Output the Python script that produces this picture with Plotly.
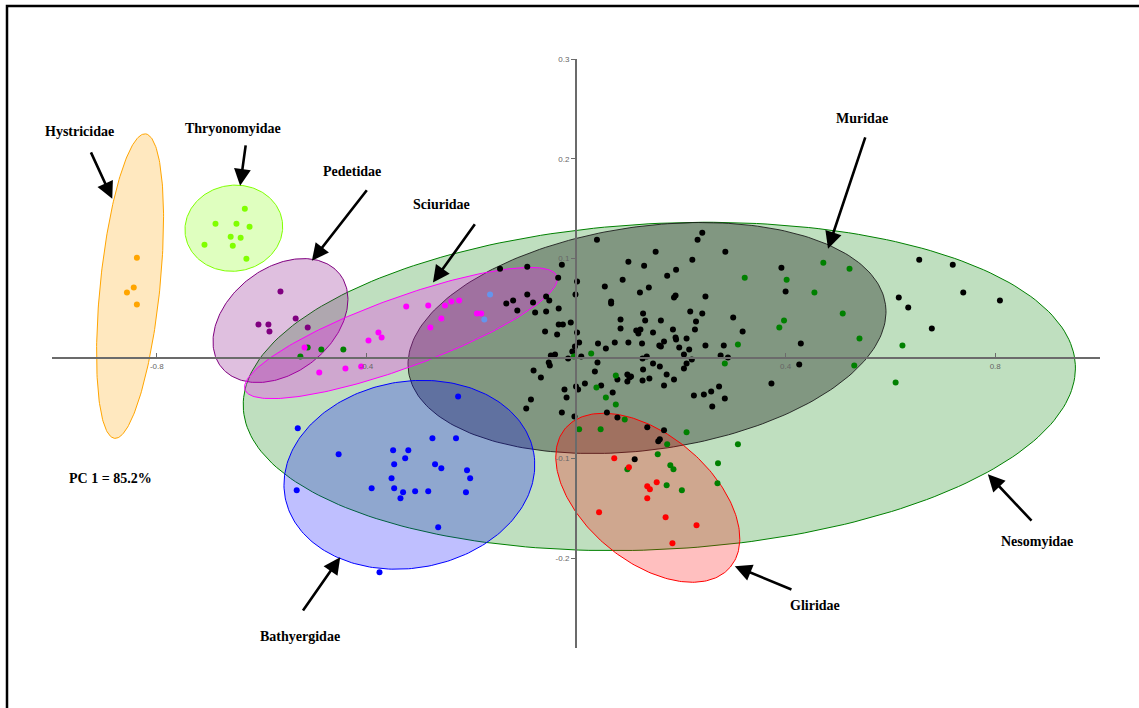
import numpy as np
import plotly.graph_objects as go

# ---------------- data (PC1, PC2 scores) ----------------
muridae_x = [-0.145,-0.093,-0.027,0.040,-0.034,0.002,-0.001,0.055,0.089,0.100,0.130,0.152,0.122,0.139,0.174,0.191,
             0.222,0.232,0.241,0.285,0.392,0.400,0.247,0.187,0.190,0.067,0.067,-0.093,-0.057,-0.051,-0.133,-0.120,
             -0.082,-0.112,-0.078,-0.057,-0.033,0.128,0.218,0.241,0.132,0.162,0.085,0.229,0.300,0.318,-0.059,-0.036,
             -0.033,-0.025,-0.010,0.002,0.085,0.115,0.123,0.119,0.147,0.185,0.227,0.190,0.211,0.191,0.006,-0.002,
             -0.007,0.042,0.057,0.074,0.100,0.126,0.159,0.162,0.168,0.197,0.216,0.247,0.282,0.206,0.276,0.290,
             0.221,-0.015,0.010,-0.040,-0.048,-0.052,-0.050,0.127,0.135,0.147,0.160,0.041,0.036,-0.081,-0.067,0.079,
             0.098,0.102,0.105,0.098,0.127,0.128,0.140,0.173,0.187,0.168,0.206,0.211,0.017,0.000,0.004,-0.022,
             -0.018,0.048,0.070,-0.086,-0.095,-0.027,-0.003,0.059,0.079,0.225,0.244,0.258,0.273,0.284,0.260,0.373,
             0.136,0.168,0.157,0.160,0.112,0.429,0.426,0.655,0.719,0.739,0.809,0.616,0.634,0.679]
muridae_y = [0.090,0.092,0.094,0.119,0.081,0.077,0.064,0.072,0.079,0.097,0.093,0.107,0.066,0.071,0.083,0.089,
             0.099,0.119,0.126,0.107,0.091,0.067,0.062,0.061,0.063,0.057,0.055,0.064,0.062,0.058,0.055,0.058,
             0.056,0.048,0.046,0.047,0.050,0.045,0.047,0.045,0.038,0.038,0.039,0.037,0.041,0.027,0.027,0.024,
             0.034,0.034,0.036,0.026,0.030,0.028,0.029,0.025,0.026,0.029,0.029,0.021,0.020,0.019,0.016,0.012,
             0.007,0.015,0.010,0.016,0.016,0.015,0.013,0.012,0.017,0.011,0.009,0.013,0.013,0.004,0.003,0.001,
             -0.001,0.000,0.002,0.004,0.003,-0.004,-0.007,0.000,0.002,-0.005,-0.008,-0.004,-0.013,-0.012,-0.019,-0.021,
             -0.016,-0.019,-0.018,-0.023,-0.022,-0.011,-0.020,-0.016,-0.021,-0.027,-0.010,-0.005,-0.025,-0.028,-0.031,-0.031,
             -0.039,-0.027,-0.034,-0.041,-0.050,-0.054,-0.058,-0.054,-0.059,-0.037,-0.036,-0.033,-0.028,-0.040,-0.048,-0.025,
             -0.069,-0.072,-0.083,-0.081,-0.101,0.015,-0.006,0.099,0.094,0.066,0.058,0.061,0.051,0.030]

nesomyidae_x = [0.322,0.402,0.397,0.388,0.309,0.284,0.029,-0.004,0.076,0.039,0.057,0.076,0.093,
                0.006,0.047,0.211,0.309,0.174,0.156,0.180,0.186,0.098,0.271,0.270,0.173,0.202,
                0.472,0.455,0.522,0.509,0.541,0.623,0.531,0.610,
                -0.526,-0.512,-0.486,-0.444]
nesomyidae_y = [0.081,0.079,0.038,0.031,0.014,-0.005,0.005,0.002,-0.017,-0.029,-0.039,-0.046,-0.061,
                -0.071,-0.071,-0.074,-0.086,-0.086,-0.096,-0.107,-0.111,-0.111,-0.105,-0.125,-0.127,-0.132,
                0.096,0.066,0.090,0.045,0.020,0.013,-0.007,-0.024,
                0.002,0.011,0.009,0.009]

gliridae_x = [0.073,0.101,0.154,0.136,0.141,0.136,0.044,0.171,0.230,0.184]
gliridae_y = [-0.100,-0.109,-0.124,-0.128,-0.131,-0.140,-0.154,-0.159,-0.167,-0.185]

bathyergidae_x = [-0.225,-0.531,-0.453,-0.349,-0.320,-0.326,-0.274,-0.229,-0.347,-0.269,-0.257,-0.208,
                  -0.202,-0.390,-0.352,-0.347,-0.330,-0.307,-0.282,-0.335,-0.210,-0.533,-0.263,-0.375]
bathyergidae_y = [-0.038,-0.070,-0.096,-0.092,-0.092,-0.100,-0.080,-0.080,-0.106,-0.106,-0.110,-0.112,
                  -0.120,-0.130,-0.120,-0.130,-0.134,-0.133,-0.133,-0.140,-0.134,-0.132,-0.169,-0.214]

sciuridae_x = [-0.518,-0.490,-0.440,-0.410,-0.396,-0.377,-0.371,-0.324,-0.282,-0.278,-0.257,-0.250,
               -0.238,-0.223,-0.189,-0.181]
sciuridae_y = [0.011,-0.014,-0.010,-0.008,0.018,0.026,0.021,0.052,0.053,0.031,0.040,0.053,
               0.057,0.058,0.045,0.045]
sciuridae2_x = [-0.164,-0.175]
sciuridae2_y = [0.064,0.039]

pedetidae_x = [-0.564,-0.606,-0.587,-0.585,-0.535,-0.512]
pedetidae_y = [0.067,0.034,0.034,0.027,0.040,0.031]

thryonomyidae_x = [-0.632,-0.688,-0.648,-0.623,-0.659,-0.640,-0.709,-0.655,-0.629]
thryonomyidae_y = [0.150,0.135,0.135,0.132,0.122,0.121,0.114,0.113,0.100]

hystricidae_x = [-0.838,-0.844,-0.857,-0.838]
hystricidae_y = [0.101,0.071,0.066,0.054]

# ellipse parameters: centre (PC1, PC2), semi-axes (PC1 units), tilt (deg)
ell_names = ["Nesomyidae","Muridae","Bathyergidae","Gliridae","Pedetidae","Sciuridae","Thryonomyidae","Hystricidae"]
ell_cx = [0.159, 0.1355, -0.318, 0.137, -0.564, -0.334, -0.653, -0.851]
ell_cy = [-0.028, 0.0205, -0.1165, -0.1395, 0.038, 0.0255, 0.1305, 0.0725]
ell_a = [0.795, 0.4596, 0.241, 0.2057, 0.1437, 0.3168, 0.0935, 0.292]
ell_b = [0.311, 0.213, 0.178, 0.1206, 0.0996, 0.0668, 0.082, 0.057]
ell_ang = [3, 8, 10, -40, 38, 20, 8, 84.2]

x_ticks = [-0.8, -0.4, 0.4, 0.8]
y_ticks = [0.3, 0.2, 0.1, -0.1, -0.2]

# ---------------- layout constants ----------------
W, H = 1139, 708
ML, MR, MT, MB = 52, 39, 59, 60
XR = [-1.0, 1.0]
YR = [-0.29, 0.30]
pw, ph = W - ML - MR, H - MT - MB
aspect = (pw / (XR[1] - XR[0])) / (ph / (YR[1] - YR[0]))

def ellipse(cx, cy, a, b, ang, n=240):
    t = np.linspace(0, 2 * np.pi, n)
    u, v = a * np.cos(t), b * np.sin(t)
    p = np.radians(ang)
    du = u * np.cos(p) - v * np.sin(p)
    dv = u * np.sin(p) + v * np.cos(p)
    return cx + du, cy + dv * aspect

colors = {
    "Nesomyidae": (0, 128, 0),
    "Muridae": (0, 0, 0),
    "Bathyergidae": (0, 0, 255),
    "Gliridae": (255, 0, 0),
    "Pedetidae": (128, 0, 128),
    "Sciuridae": (255, 0, 255),
    "Thryonomyidae": (128, 255, 0),
    "Hystricidae": (255, 165, 0),
}
alphas = {"Muridae": 0.32}

fig = go.Figure()
for i, nm in enumerate(ell_names):
    ex, ey = ellipse(ell_cx[i], ell_cy[i], ell_a[i], ell_b[i], ell_ang[i])
    r, g, b = colors[nm]
    al = alphas.get(nm, 0.25)
    line_col = "rgba(30,30,30,0.9)" if nm == "Muridae" else f"rgb({r},{g},{b})"
    fig.add_trace(go.Scatter(x=ex, y=ey, mode="lines", fill="toself",
                             fillcolor=f"rgba({r},{g},{b},{al})",
                             line=dict(color=line_col, width=1), hoverinfo="skip", showlegend=False))

groups = [
    (muridae_x, muridae_y, "#000000"),
    (nesomyidae_x, nesomyidae_y, "#008000"),
    (gliridae_x, gliridae_y, "#ff0000"),
    (bathyergidae_x, bathyergidae_y, "#0000ff"),
    (sciuridae_x, sciuridae_y, "#ff00ff"),
    (sciuridae2_x, sciuridae2_y, "#6495ed"),
    (pedetidae_x, pedetidae_y, "#800080"),
    (thryonomyidae_x, thryonomyidae_y, "#80ff00"),
    (hystricidae_x, hystricidae_y, "#ffa500"),
]
for gx, gy, c in groups:
    fig.add_trace(go.Scatter(x=gx, y=gy, mode="markers",
                             marker=dict(color=c, size=6, line=dict(width=0)),
                             showlegend=False))

lab_font = dict(family="Liberation Serif, Times New Roman, serif", size=14, color="black")
labels = [
    ("<b>Hystricidae</b>", -0.947, 0.227),
    ("<b>Thryonomyidae</b>", -0.655, 0.230),
    ("<b>Pedetidae</b>", -0.427, 0.187),
    ("<b>Sciuridae</b>", -0.256, 0.154),
    ("<b>Muridae</b>", 0.546, 0.240),
    ("<b>Nesomyidae</b>", 0.880, -0.183),
    ("<b>Gliridae</b>", 0.456, -0.247),
    ("<b>Bathyergidae</b>", -0.527, -0.278),
    ("<b>PC 1 = 85.2%</b>", -0.889, -0.120),
    ("<b>PC 2 = 4.3%</b>", 0.002, -0.312),
]
for txt, lx, ly in labels:
    fig.add_annotation(x=lx, y=ly, text=txt, showarrow=False, font=lab_font,
                       xanchor="center", yanchor="middle")

arrows = [
    (-0.927, 0.208, -0.885, 0.160),
    (-0.630, 0.215, -0.641, 0.173),
    (-0.397, 0.170, -0.504, 0.098),
    (-0.191, 0.136, -0.273, 0.076),
    (0.553, 0.223, 0.481, 0.110),
    (0.872, -0.164, 0.786, -0.116),
    (0.414, -0.232, 0.303, -0.208),
    (-0.523, -0.254, -0.450, -0.199),
]
for tx, ty, hx, hy in arrows:
    fig.add_annotation(x=hx, y=hy, ax=tx, ay=ty, axref="x", ayref="y", xref="x", yref="y",
                       text="", showarrow=True, arrowhead=2, arrowsize=1.3, arrowwidth=2.6,
                       arrowcolor="black", standoff=0)

# outer frame
fig.add_shape(type="rect", xref="paper", yref="paper",
              x0=(7 - ML) / pw, x1=1.2, y0=-0.3, y1=(H - MB - 6) / ph,
              line=dict(color="black", width=2.5), fillcolor="rgba(0,0,0,0)", layer="above")

tick_font = dict(family="Liberation Sans, Arial, sans-serif", size=8, color="#666666")
fig.update_layout(
    width=W, height=H,
    margin=dict(l=ML, r=MR, t=MT, b=MB, pad=0),
    paper_bgcolor="white", plot_bgcolor="white",
    showlegend=False,
    xaxis=dict(range=XR, showgrid=False, zeroline=False, showline=True, linecolor="#6b6b6b",
               linewidth=2, anchor="free", position=(0 - YR[0]) / (YR[1] - YR[0]),
               tickvals=x_ticks, ticktext=[f"{v:g}" for v in x_ticks],
               ticks="inside", ticklen=4, tickwidth=1, tickcolor="#6b6b6b",
               tickfont=tick_font, automargin=False, fixedrange=True),
    yaxis=dict(range=YR, showgrid=False, zeroline=False, showline=True, linecolor="#6b6b6b",
               linewidth=2, anchor="free", position=(0 - XR[0]) / (XR[1] - XR[0]),
               tickvals=y_ticks, ticktext=[f"{v:g}" for v in y_ticks],
               ticks="outside", ticklen=4, tickwidth=1, tickcolor="#6b6b6b",
               tickfont=tick_font, automargin=False, fixedrange=True),
)

fig.write_html("out.html")
